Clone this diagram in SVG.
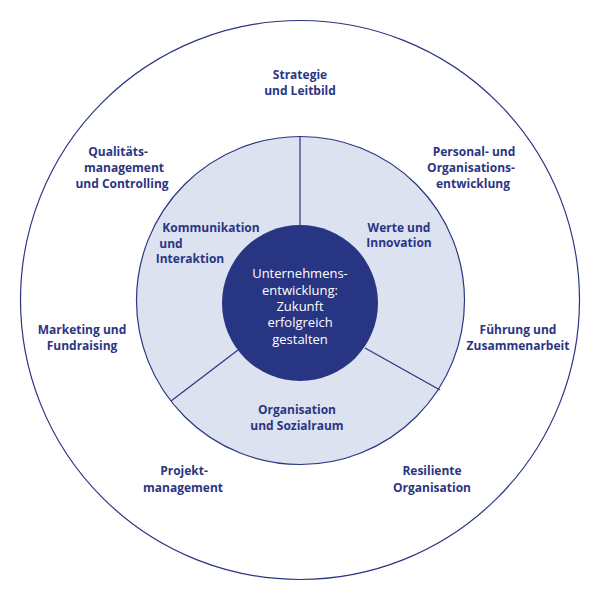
<svg xmlns="http://www.w3.org/2000/svg" width="600" height="600" viewBox="0 0 600 600">
<style>
.lbl{font-family:"Open Sans","Noto Sans","Liberation Sans",sans-serif;font-size:12px;font-weight:bold;fill:#2b3582;text-anchor:middle}
.ctr{font-family:"Open Sans","Noto Sans","Liberation Sans",sans-serif;font-size:13px;fill:#ffffff;text-anchor:middle}
.ln{stroke:#2b3582;stroke-width:1.2;fill:none}
</style>
<rect width="600" height="600" fill="#ffffff"/>
<g id="outer-ring">
<circle cx="300" cy="300" r="279.5" fill="#ffffff" stroke="#2b3582" stroke-width="1.2"/>
</g>
<g id="middle-ring">
<circle cx="300.5" cy="300.5" r="164" fill="#dce2f0" stroke="#2b3582" stroke-width="1.2"/>
</g>
<g id="connectors">
<line class="ln" x1="300" y1="137" x2="300" y2="226"/>
<line class="ln" x1="238" y1="350" x2="171" y2="401"/>
<line class="ln" x1="365" y1="348" x2="440" y2="390"/>
</g>
<g id="center">
<circle cx="300" cy="303" r="78" fill="#283583"/>
<text class="ctr" x="300" y="278">Unternehmens-</text>
<text class="ctr" x="300" y="295">entwicklung:</text>
<text class="ctr" x="300" y="311">Zukunft</text>
<text class="ctr" x="300" y="327">erfolgreich</text>
<text class="ctr" x="300" y="344">gestalten</text>
</g>
<g id="strategie">
<text class="lbl" x="300" y="79">Strategie</text>
<text class="lbl" x="300" y="95">und Leitbild</text>
</g>
<g id="qualitaet">
<text class="lbl" x="118" y="156">Qualitäts-</text>
<text class="lbl" x="124" y="172">management</text>
<text class="lbl" x="122" y="188">und Controlling</text>
</g>
<g id="personal">
<text class="lbl" x="474" y="156">Personal- und</text>
<text class="lbl" x="471" y="172">Organisations-</text>
<text class="lbl" x="473" y="188">entwicklung</text>
</g>
<g id="kommunikation">
<text class="lbl" x="211" y="232">Kommunikation</text>
<text class="lbl" x="171" y="248">und</text>
<text class="lbl" x="190" y="263">Interaktion</text>
</g>
<g id="werte">
<text class="lbl" x="399" y="232">Werte und</text>
<text class="lbl" x="399" y="247">Innovation</text>
</g>
<g id="marketing">
<text class="lbl" x="82" y="334">Marketing und</text>
<text class="lbl" x="82" y="350">Fundraising</text>
</g>
<g id="fuehrung">
<text class="lbl" x="518" y="334">Führung und</text>
<text class="lbl" x="518" y="350">Zusammenarbeit</text>
</g>
<g id="organisation">
<text class="lbl" x="297" y="414">Organisation</text>
<text class="lbl" x="297" y="430">und Sozialraum</text>
</g>
<g id="projekt">
<text class="lbl" x="184" y="475">Projekt-</text>
<text class="lbl" x="183" y="492">management</text>
</g>
<g id="resiliente">
<text class="lbl" x="432" y="475">Resiliente</text>
<text class="lbl" x="432" y="492">Organisation</text>
</g>
</svg>
